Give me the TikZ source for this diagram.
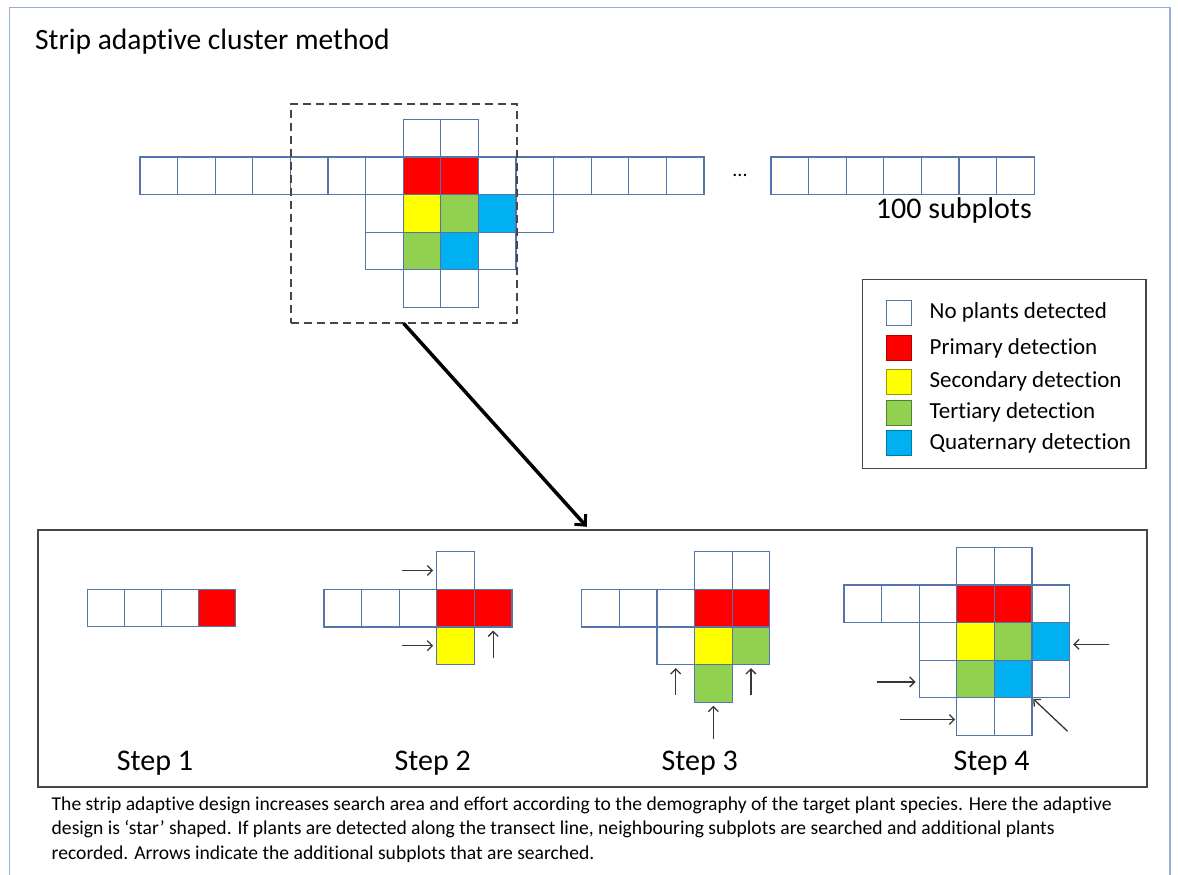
\documentclass[tikz,border=0pt]{standalone}
\usepackage{fontspec}
\setmainfont{Carlito}[Ligatures=NoCommon]
\usetikzlibrary{arrows.meta, positioning}
\definecolor{cellBlue}{RGB}{84,116,172}
\definecolor{frameBlue}{RGB}{150,174,208}
\definecolor{boxGray}{RGB}{70,70,70}
\definecolor{arrowGray}{RGB}{55,55,55}
\definecolor{primaryRed}{RGB}{255,0,0}
\definecolor{secondaryYellow}{RGB}{255,255,0}
\definecolor{tertiaryGreen}{RGB}{146,208,80}
\definecolor{quaternaryBlue}{RGB}{0,176,240}

\tikzset{
  cell/.style={draw=cellBlue, fill=white, line width=1.2pt, minimum size=37.6pt, inner sep=0pt},
  swatch/.style={line width=1.2pt, minimum size=25pt, inner sep=0pt},
  legendtext/.style={font=\fontsize{23}{27}\selectfont, inner sep=0pt},
  steplabel/.style={font=\fontsize{30}{36}\selectfont, inner sep=0pt},
  caption/.style={anchor=base west, inner sep=0pt, font=\fontsize{19.6}{24}\selectfont},
  probe/.style={draw=arrowGray, line width=1.3pt, -{Straight Barb[length=5pt,width=10pt]}, shorten >=3pt},
  bigarrow/.style={line width=3.5pt, line cap=round, -{Straight Barb[length=8pt,width=15pt,line width=3pt]}},
}

\begin{document}
\begin{tikzpicture}[x=1pt, y=-1pt]
\useasboundingbox (0,0) rectangle (1178,875);
\fill[white] (0,0) rectangle (1178,875);
\draw[frameBlue, line width=1.5pt] (9.5,875) -- (9.5,7.5) -- (1170,7.5) -- (1170,875);

\node[anchor=west, inner sep=0pt, font=\fontsize{29.5}{34}\selectfont] (title) at (35,41.7) {Strip adaptive cluster method};

% transect strip with the star around the first detections
\begin{scope}[shift={(140,119.3)}]
  \foreach \c in {0,1,2,3,4,5,6,9,10,11,12,13,14}
    \node[cell] (t-\c-1) at ({(\c+.5)*37.6},{1.5*37.6}) {};
  \foreach \c/\r/\f in {7/0/white, 8/0/white, 7/1/primaryRed, 8/1/primaryRed,
      6/2/white, 7/2/secondaryYellow, 8/2/tertiaryGreen, 9/2/quaternaryBlue, 10/2/white,
      6/3/white, 7/3/tertiaryGreen, 8/3/quaternaryBlue, 9/3/white, 7/4/white, 8/4/white}
    \node[cell, fill=\f] (t-\c-\r) at ({(\c+.5)*37.6},{(\r+.5)*37.6}) {};
\end{scope}
\node[font=\fontsize{20}{24}\selectfont] (gap) at (740,175) {...};
\begin{scope}[shift={(771,156.9)}]
  \foreach \c in {0,...,6}
    \node[cell] (u-\c) at ({(\c+.5)*37.6},{.5*37.6}) {};
\end{scope}
\node[anchor=east, inner sep=0pt, font=\fontsize{30}{36}\selectfont] (count) at (1032,211) {100 subplots};

\node[draw=boxGray, dash pattern=on 8pt off 5pt, line width=1.8pt,
      minimum width=225.7pt, minimum height=218.7pt] (zoombox) at (403.85,213.35) {};

% legend
\node[draw=boxGray, line width=1.5pt, minimum width=283.3pt, minimum height=189pt] (legend) at (1004.35,373.8) {};
\foreach \f/\d/\t/\y [count=\i] in {white/cellBlue/No plants detected/312.7,
    primaryRed/primaryRed!70!black/Primary detection/348.3,
    secondaryYellow/secondaryYellow!60!black/Secondary detection/381.7,
    tertiaryGreen/tertiaryGreen!60!black/Tertiary detection/412.7,
    quaternaryBlue/quaternaryBlue!70!black/Quaternary detection/443.3} {
  \node[swatch, fill=\f, draw=\d] (sw\i) at (898.85,\y) {};
  \node[legendtext, right=17.5pt of sw\i] (lt\i) {\t};
}

% the four steps
\node[draw=boxGray, line width=1.8pt, minimum width=1109pt, minimum height=257pt] (stepsbox) at (592.8,658.2) {};
\draw[bigarrow] (zoombox.south) -- ([xshift=-6pt, yshift=2pt]stepsbox.north);

\begin{scope}[shift={(87.7,589.3)}]
  \foreach \c/\f in {0/white, 1/white, 2/white, 3/primaryRed}
    \node[cell, fill=\f, minimum size=37pt] (a-\c) at ({(\c+.5)*37},{.5*37}) {};
\end{scope}

\begin{scope}[shift={(324,551.7)}]
  \foreach \c/\r/\f in {0/1/white, 1/1/white, 2/1/white, 3/0/white,
      3/1/primaryRed, 4/1/primaryRed, 3/2/secondaryYellow}
    \node[cell, fill=\f] (b-\c-\r) at ({(\c+.5)*37.6},{(\r+.5)*37.6}) {};
\end{scope}
\coordinate (b-in1) at ([xshift=-34pt]b-3-0.west);
\coordinate (b-in2) at ([xshift=-34pt]b-3-2.west);
\coordinate (b-in3) at ([yshift=-30pt]b-4-1.south);
\draw[probe] (b-in1) -- (b-3-0.west);
\draw[probe] (b-in2) -- (b-3-2.west);
\draw[probe] (b-in3) -- (b-4-1.south);

\begin{scope}[shift={(581.7,551.7)}]
  \foreach \c/\r/\f in {0/1/white, 1/1/white, 2/1/white, 3/0/white, 4/0/white,
      3/1/primaryRed, 4/1/primaryRed, 2/2/white, 3/2/secondaryYellow, 4/2/tertiaryGreen,
      3/3/tertiaryGreen}
    \node[cell, fill=\f] (c-\c-\r) at ({(\c+.5)*37.6},{(\r+.5)*37.6}) {};
\end{scope}
\coordinate (c-in1) at ([yshift=-30pt]c-2-2.south);
\coordinate (c-in2) at ([yshift=-30pt]c-4-2.south);
\coordinate (c-in3) at ([yshift=-36pt]c-3-3.south);
\draw[probe] (c-in1) -- (c-2-2.south);
\draw[probe] (c-in2) -- (c-4-2.south);
\draw[probe] (c-in3) -- (c-3-3.south);

\begin{scope}[shift={(844,547.3)}]
  \foreach \c/\r/\f in {3/0/white, 4/0/white,
      0/1/white, 1/1/white, 2/1/white, 3/1/primaryRed, 4/1/primaryRed, 5/1/white,
      2/2/white, 3/2/secondaryYellow, 4/2/tertiaryGreen, 5/2/quaternaryBlue,
      2/3/white, 3/3/tertiaryGreen, 4/3/quaternaryBlue, 5/3/white,
      3/4/white, 4/4/white}
    \node[cell, fill=\f] (d-\c-\r) at ({(\c+.5)*37.6},{(\r+.5)*37.6}) {};
\end{scope}
\coordinate (d-in1) at ([xshift=39pt, yshift=-3pt]d-5-2.east);
\coordinate (d-in2) at ([xshift=-42pt, yshift=-3pt]d-2-3.west);
\coordinate (d-in3) at ([xshift=-56pt, yshift=-3pt]d-3-4.west);
\coordinate (d-in4) at ([xshift=35pt, yshift=-33pt]d-4-3.south east);
\draw[probe] (d-in1) -- ([yshift=-3pt]d-5-2.east);
\draw[probe] (d-in2) -- ([yshift=-3pt]d-2-3.west);
\draw[probe, shorten >=1pt] (d-in3) -- ([yshift=-3pt]d-3-4.west);
\draw[probe, shorten >=1pt] (d-in4) -- (d-4-3.south east);

\node[steplabel] (step1) at (155,763) {Step 1};
\node[steplabel] (step2) at (432.7,763) {Step 2};
\node[steplabel] (step3) at (699.8,763) {Step 3};
\node[steplabel] (step4) at (991.6,763) {Step 4};

\node[caption] (cap1) at (51.5,810) {The strip adaptive design increases search area and effort according to the demography of the target plant species. Here the adaptive};
\node[caption] (cap2) at (51.5,834.5) {design is ‘star’ shaped. If plants are detected along the transect line, neighbouring subplots are searched and additional plants};
\node[caption] (cap3) at (51.5,859) {recorded. Arrows indicate the additional subplots that are searched.};
\end{tikzpicture}
\end{document}
